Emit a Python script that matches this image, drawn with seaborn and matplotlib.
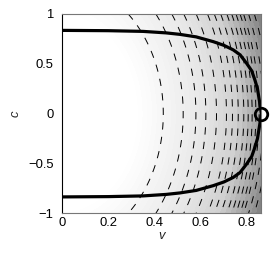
import numpy as np
import pandas as pd
import matplotlib
matplotlib.use("Agg")
import matplotlib.pyplot as plt
from matplotlib.colors import LinearSegmentedColormap
import seaborn as sns

# boundary curve (upper half; lower half is its mirror)
curve_v = [0.0, 0.2, 0.35, 0.45, 0.51, 0.58, 0.654, 0.70, 0.74, 0.77,
           0.798, 0.82, 0.834, 0.845, 0.855, 0.862]
curve_c = [0.835, 0.832, 0.825, 0.81, 0.795, 0.77, 0.722, 0.685, 0.64, 0.59,
           0.505, 0.43, 0.337, 0.25, 0.107, 0.0]

# where the dashed contours cross c = 0 (last ones only show near the corners)
contour_v0 = [0.438, 0.524, 0.579, 0.622, 0.668, 0.711, 0.737, 0.762, 0.786,
              0.805, 0.822, 0.838, 0.852, 0.872, 0.895]

# shading read along c = 0 (and the corners): level -> grey value
shade_s = [0.33, 0.6, 0.75, 0.86, 0.925]
shade_grey = [1.0, 0.91, 0.82, 0.63, 0.50]

# point marked with the circle
mark_v = [0.862]
mark_c = [0.0]

vmax = 0.862
bc = 0.11

vv, cc = np.meshgrid(np.linspace(0, vmax, 400), np.linspace(-1, 1, 400))
ss = np.sqrt(vv ** 2 + bc * cc ** 2)

sns.set_theme(style="white")
plt.rcParams['font.family'] = ['Liberation Sans', 'DejaVu Sans']

fig = plt.figure(figsize=(2.74, 2.58), dpi=100)
ax = fig.add_axes([0.226, 0.173, 0.728, 0.773])

lo, hi = shade_s[0], shade_s[-1]
stops = [((s - lo) / (hi - lo), (g, g, g)) for s, g in zip(shade_s, shade_grey)]
cmap = LinearSegmentedColormap.from_list("g", stops)
fill_levels = np.concatenate([[0.0], np.linspace(lo, hi, 30)])
ax.contourf(vv, cc, ss, levels=fill_levels, cmap=cmap, vmin=lo, vmax=hi,
            extend="max")
ax.contour(vv, cc, ss, levels=contour_v0, colors="black",
           linewidths=0.7, linestyles=[(0, (7.5, 7.5))])

half = pd.DataFrame({"v": curve_v, "c": curve_c})
full = pd.concat([half, half.iloc[::-1].assign(c=lambda d: -d["c"])], ignore_index=True)
sns.lineplot(data=full, x="v", y="c", sort=False, estimator=None,
             color="black", linewidth=2.3, ax=ax)
ax.plot(mark_v, mark_c, "o", ms=9, mfc="none", mec="black", mew=2, clip_on=False, zorder=5)

ax.set_xlim(0, vmax)
ax.set_ylim(-1, 1)
ax.set_xticks([0, 0.2, 0.4, 0.6, 0.8])
ax.set_xticklabels(["0", "0.2", "0.4", "0.6", "0.8"])
ax.set_yticks([-1, -0.5, 0, 0.5, 1])
ax.set_yticklabels(["\u22121", "\u22120.5", "0", "0.5", "1"])
ax.tick_params(length=0, labelsize=9.4, colors="black")
ax.tick_params(axis="x", pad=2.5)
ax.tick_params(axis="y", pad=6)
ax.set_xlabel("v", fontsize=9.4, style="italic", labelpad=1)
ax.set_ylabel("c", fontsize=9.4, style="italic", labelpad=5)
for s in ax.spines.values():
    s.set_color("#777777")
    s.set_linewidth(0.8)
ax.spines["left"].set_color("black")

fig.savefig("out.png", dpi=100)
